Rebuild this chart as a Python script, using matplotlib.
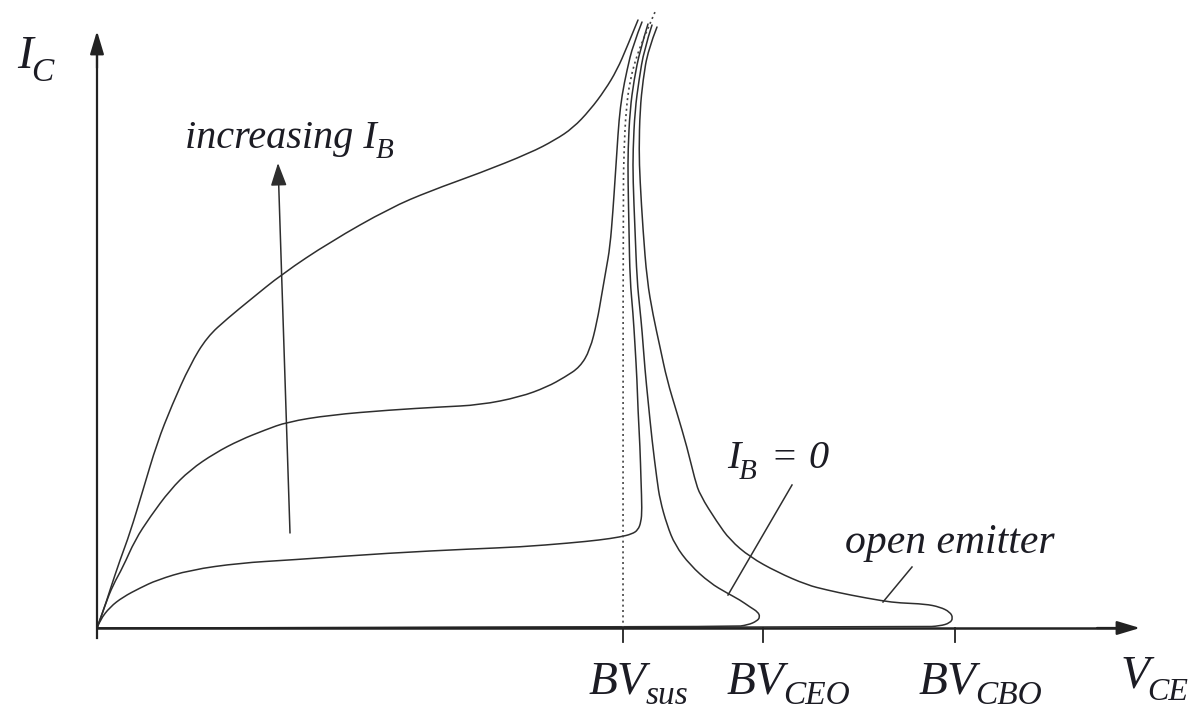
import matplotlib
matplotlib.use("Agg")
import matplotlib.pyplot as plt
from matplotlib.path import Path
from matplotlib.patches import PathPatch

# Output characteristics I_C(V_CE), arbitrary units
# highest base current
ib_high_v = [0, .06, .13, .23, .33, .46, .60, .75, .93, 1.10, 1.31, 1.53, 1.85, 2.33, 2.93,
             3.33, 3.83, 4.33, 4.58, 4.76, 4.93, 5.08, 5.20, 5.30, 5.41]
ib_high_i = [0, .16, .38, .68, .95, 1.38, 1.85, 2.23, 2.63, 2.91, 3.10, 3.28, 3.54, 3.86, 4.20,
             4.37, 4.55, 4.75, 4.88, 5.00, 5.18, 5.38, 5.58, 5.81, 6.08]

# medium base current
ib_mid_v = [0, .08, .16, .26, .38, .53, .73, .93, 1.18, 1.43, 1.68, 1.90, 2.33, 2.93, 3.43, 3.83,
            4.23, 4.50, 4.68, 4.83, 4.93, 5.00, 5.05, 5.09, 5.13, 5.16, 5.18, 5.20, 5.22, 5.25,
            5.30, 5.36, 5.45]
ib_mid_i = [0, .23, .43, .61, .88, 1.11, 1.38, 1.58, 1.75, 1.88, 1.98, 2.06, 2.13, 2.18, 2.21, 2.23,
            2.31, 2.41, 2.51, 2.61, 2.78, 3.06, 3.35, 3.58, 3.81, 4.18, 4.48, 4.78, 5.08, 5.33,
            5.58, 5.83, 6.06]

# low base current
ib_low_v = [0, .03, .13, .26, .43, .60, .93, 1.43, 1.93, 2.93, 3.73, 4.23, 4.73, 5.03, 5.23, 5.35,
            5.41, 5.44, 5.45, 5.44, 5.43, 5.41, 5.40, 5.38, 5.36, 5.33, 5.32, 5.31, 5.31, 5.33,
            5.37, 5.43, 5.51]
ib_low_i = [0, .08, .21, .31, .40, .48, .58, .65, .68, .75, .79, .81, .85, .88, .91, .94,
            .98, 1.06, 1.18, 1.48, 1.81, 2.18, 2.48, 2.83, 3.15, 3.48, 3.98, 4.48, 4.78, 5.18,
            5.48, 5.78, 6.04]

# I_B = 0 (open base)
ib_zero_v = [0, 6.36, 6.51, 6.60, 6.63, 6.61, 6.53, 6.43, 6.30, 6.13, 5.93, 5.78, 5.70, 5.63,
             5.60, 5.55, 5.51, 5.48, 5.45, 5.43, 5.40, 5.38, 5.36, 5.36, 5.38, 5.42, 5.47, 5.55]
ib_zero_i = [0, .01, .03, .07, .11, .16, .21, .28, .35, .45, .63, .83, 1.03, 1.28,
             1.48, 1.88, 2.28, 2.58, 2.98, 3.18, 3.48, 3.98, 4.48, 4.78, 5.18, 5.48, 5.78, 6.03]

# open emitter
open_em_v = [0, 8.26, 8.43, 8.53, 8.56, 8.53, 8.43, 8.28, 8.03, 7.86, 7.53, 7.30, 7.10, 6.80,
             6.53, 6.33, 6.20, 6.03, 5.98, 5.90, 5.80, 5.70, 5.63, 5.56, 5.50, 5.46, 5.43, 5.42,
             5.43, 5.46, 5.51, 5.60]
open_em_i = [0, .01, .02, .05, .10, .16, .21, .24, .25, .27, .33, .38, .43, .56,
             .71, .88, 1.06, 1.33, 1.48, 1.81, 2.15, 2.48, 2.81, 3.13, 3.48, 3.98, 4.48, 4.78,
             5.18, 5.48, 5.78, 6.01]

# sustaining-voltage asymptote (dotted)
sus_v = [5.26, 5.26, 5.27, 5.29, 5.33, 5.40, 5.48, 5.58]
sus_i = [0, 4.28, 4.78, 5.18, 5.48, 5.73, 5.93, 6.16]

# breakdown voltages on the V_CE axis
bv_values = [5.26, 6.66, 8.58]
bv_names = ["BV", "BV", "BV"]
bv_subs = ["sus", "CEO", "CBO"]
bv_label_x = [4.92, 6.30, 8.22]

curve_color = "#2e2e2e"
text_color = "#1c1c24"
FAMILY = "Liberation Serif"

fig = plt.figure(figsize=(11.91, 7.10), dpi=100)
ax = fig.add_axes([0, 0, 1, 1])
ax.set_xlim(-0.97, 10.94)
ax.set_ylim(-0.82, 6.28)
ax.axis("off")
renderer = fig.canvas.get_renderer()


def smooth_curve(v, i, **kw):
    """Quadratic B-spline through the midpoints of the control polygon."""
    pts = list(zip(v, i))
    verts = [pts[0]]
    codes = [Path.MOVETO]
    n = len(pts)
    for k in range(1, n - 1):
        nxt = pts[k + 1] if k == n - 2 else ((pts[k][0] + pts[k + 1][0]) / 2,
                                             (pts[k][1] + pts[k + 1][1]) / 2)
        verts += [pts[k], nxt]
        codes += [Path.CURVE3, Path.CURVE3]
    ax.add_patch(PathPatch(Path(verts, codes), facecolor="none", **kw))


for v, i in [(ib_high_v, ib_high_i), (ib_mid_v, ib_mid_i), (ib_low_v, ib_low_i),
             (ib_zero_v, ib_zero_i), (open_em_v, open_em_i)]:
    smooth_curve(v, i, edgecolor=curve_color, lw=1.1, joinstyle="round", capstyle="round")

smooth_curve(sus_v, sus_i, edgecolor="#444444", lw=1.2, linestyle=(0, (1.2, 2.0)))

# axes with arrow heads
ax.plot([0, 0], [-0.1, 5.8], color="#222222", lw=1.6)
ax.plot([0, 10.2], [0, 0], color="#222222", lw=1.8)
head = dict(arrowstyle="-|>,head_length=1.0,head_width=0.3", mutation_scale=14,
            color="#222222", lw=1.6, shrinkA=0, shrinkB=0)
ax.annotate("", xy=(0, 5.97), xytext=(0, 5.6), arrowprops=head)
ax.annotate("", xy=(10.43, 0), xytext=(10.0, 0), arrowprops=head)

# breakdown-voltage ticks
for bv in bv_values:
    ax.plot([bv, bv], [0, -0.14], color="#222222", lw=1.3)

# increasing I_B arrow
ax.annotate("", xy=(1.81, 4.65), xytext=(1.93, 0.95),
            arrowprops=dict(arrowstyle="-|>,head_length=1.0,head_width=0.35",
                            mutation_scale=14, color="#2e2e2e", lw=1.1, shrinkA=0, shrinkB=0))

# leader lines for the curve labels
ax.plot([6.31, 6.95], [0.33, 1.43], color=curve_color, lw=1.1)
ax.plot([7.86, 8.15], [0.26, 0.61], color=curve_color, lw=1.1)


def rich_label(x, y, pieces):
    """Place (text, size, baseline shift pt, gap pt) pieces one after another."""
    dx = 0.0
    for txt, size, dy, gap in pieces:
        dx += gap
        t = ax.annotate(txt, xy=(x, y), xycoords="data", xytext=(dx, dy),
                        textcoords="offset points", fontsize=size, family=FAMILY,
                        style="italic", color=text_color, va="baseline", ha="left")
        dx += t.get_window_extent(renderer).width * 72.0 / fig.dpi


big, sub = 34, 24
rich_label(-0.80, 5.60, [("I", big, 0, 0), ("C", sub, -9, -1)])
rich_label(10.24, -0.59, [("V", big, 0, 0), ("CE", sub - 1, -9, -2)])
for x, name, s in zip(bv_label_x, bv_names, bv_subs):
    rich_label(x, -0.65, [(name, big, 0, 0), (s, sub, -8, -1)])

rich_label(0.88, 4.80, [("increasing I", 29, 0, 0), ("B", 21, -7, -1)])
rich_label(6.30, 1.60, [("I", 29, 0, 0), ("B", 21, -8, -1), ("=", 29, 0, 10), ("0", 29, 0, 8)])
rich_label(7.48, 0.75, [("open emitter", 30, 0, 0)])

fig.savefig("out.png", dpi=100, facecolor="white")
